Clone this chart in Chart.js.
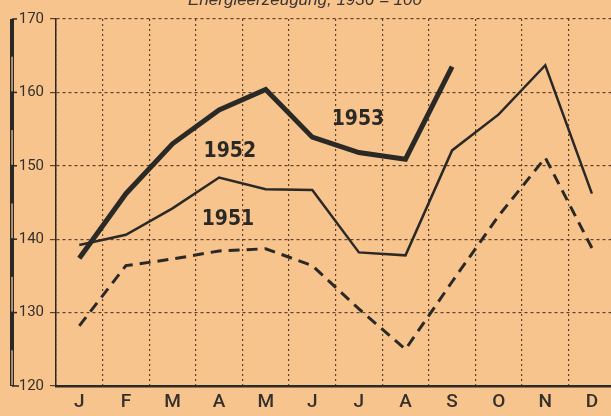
<!DOCTYPE html>
<html>
<head>
<meta charset="utf-8">
<script src="https://cdn.jsdelivr.net/npm/chart.js@4.4.1/dist/chart.umd.min.js"></script>
<style>
    html, body { margin: 0; padding: 0; background: #f8c48e; overflow: hidden; }
    #wrap { position: relative; width: 611px; height: 416px; }
</style>
</head>
<body>
<div id="wrap"><canvas id="energyChart"></canvas></div>
<script>
const months = ['J', 'F', 'M', 'A', 'M', 'J', 'J', 'A', 'S', 'O', 'N', 'D'];
const yearLabels = ['1951', '1952', '1953'];
const values1951 = [128.2, 136.4, 137.3, 138.4, 138.7, 136.4, 130.5, 125.0, 134.2, 143.2, 151.1, 138.8];
const values1952 = [139.2, 140.6, 144.2, 148.4, 146.8, 146.7, 138.2, 137.8, 152.1, 157.0, 163.7, 146.2];
const values1953 = [137.4, 146.2, 153.0, 157.6, 160.4, 153.9, 151.8, 150.9, 163.5, null, null, null];
const yTicks = [120, 130, 140, 150, 160, 170];
const titleText = 'Energieerzeugung, 1936 = 100';

const ink = '#2b2926';
const gridInk = '#5e4128';
const paper = '#f8c48e';

function toPoints(values) {
    return values.map((v, i) => ({ x: i, y: v })).filter(p => p.y !== null);
}

// labels written next to the lines, in data units
const yearSpots = [
    { text: yearLabels[0], x: 3.19, y: 142.7 },
    { text: yearLabels[1], x: 3.23, y: 151.9 },
    { text: yearLabels[2], x: 5.98, y: 156.3 }
];

const extras = {
    id: 'extras',
    afterDraw(chart) {
        const ctx = chart.ctx;
        const xs = chart.scales.x;
        const ys = chart.scales.y;
        ctx.save();

        // title, cut off at the top edge
        ctx.fillStyle = '#3a3530';
        ctx.font = 'italic 17px "Liberation Sans", Arial, sans-serif';
        ctx.textAlign = 'center';
        ctx.textBaseline = 'alphabetic';
        ctx.fillText(titleText, 305, 5);

        // scale bar on the far left
        const top = ys.getPixelForValue(170);
        const bot = ys.getPixelForValue(120);
        ctx.fillStyle = ink;
        ctx.fillRect(10, top, 4, bot - top);
        ctx.fillStyle = paper;
        for (let v = 165; v > 120; v -= 10) {
            const y1 = ys.getPixelForValue(v);
            const y2 = ys.getPixelForValue(v - 5);
            ctx.fillRect(11.4, y1 + 1, 1.3, y2 - y1 - 2);
        }
        ctx.strokeStyle = ink;
        ctx.lineWidth = 1.5;
        yTicks.forEach(v => {
            const y = ys.getPixelForValue(v);
            ctx.beginPath();
            ctx.moveTo(12, y);
            ctx.lineTo(v === 120 ? 19 : 17, y);
            ctx.stroke();
        });

        // year labels
        ctx.fillStyle = ink;
        ctx.font = 'bold 21px "Liberation Sans Narrow", "DejaVu Sans Condensed", sans-serif';
        ctx.textAlign = 'center';
        ctx.textBaseline = 'middle';
        yearSpots.forEach(s => {
            ctx.fillText(s.text, xs.getPixelForValue(s.x), ys.getPixelForValue(s.y));
        });
        ctx.restore();
    }
};

document.addEventListener("DOMContentLoaded", function() {
    const ctx = document.getElementById('energyChart').getContext('2d');
    const energyChart = new Chart(ctx, {
        type: 'line',
        data: {
            datasets: [{
                label: yearLabels[0],
                data: toPoints(values1951),
                borderColor: ink,
                borderWidth: 3,
                borderDash: [11, 7],
                pointRadius: 0,
                fill: false
            }, {
                label: yearLabels[1],
                data: toPoints(values1952),
                borderColor: ink,
                borderWidth: 2.5,
                pointRadius: 0,
                fill: false
            }, {
                label: yearLabels[2],
                data: toPoints(values1953),
                borderColor: ink,
                borderWidth: 5,
                pointRadius: 0,
                fill: false
            }]
        },
        options: {
            responsive: true,
            maintainAspectRatio: false,
            animation: false,
            layout: { padding: { top: 19, left: 0, right: 0, bottom: 0 } },
            plugins: {
                legend: { display: false },
                tooltip: { enabled: false }
            },
            scales: {
                x: {
                    type: 'linear',
                    min: -0.5,
                    max: 11.41,
                    afterBuildTicks: function(scale) {
                        const t = [];
                        for (let i = 0; i <= 24; i++) {
                            const v = -0.5 + i * 0.5;
                            if (v <= scale.max) t.push({ value: v });
                        }
                        scale.ticks = t;
                    },
                    afterFit: function(scale) { scale.height = 30; },
                    grid: {
                        color: c => (c.tick && Number.isInteger(c.tick.value)) ? 'rgba(0,0,0,0)' : gridInk,
                        lineWidth: 1.2,
                        drawTicks: false
                    },
                    border: { color: ink, width: 2.5, dash: [2, 3] },
                    ticks: {
                        autoSkip: false,
                        maxRotation: 0,
                        padding: 5,
                        color: '#35302b',
                        font: { family: 'Roboto', size: 19, weight: '500' },
                        callback: v => Number.isInteger(v) ? months[v] : ''
                    }
                },
                y: {
                    min: 120,
                    max: 170,
                    afterBuildTicks: function(scale) {
                        scale.ticks = yTicks.map(v => ({ value: v }));
                    },
                    afterFit: function(scale) { scale.width = 56; },
                    grid: { color: gridInk, lineWidth: 1.2, tickLength: 6 },
                    border: { color: ink, width: 1.5, dash: [3, 3] },
                    ticks: {
                        padding: 6,
                        color: '#35302b',
                        font: { family: 'Roboto', size: 15 }
                    }
                }
            }
        },
        plugins: [extras]
    });
});
</script>
</body>
</html>
